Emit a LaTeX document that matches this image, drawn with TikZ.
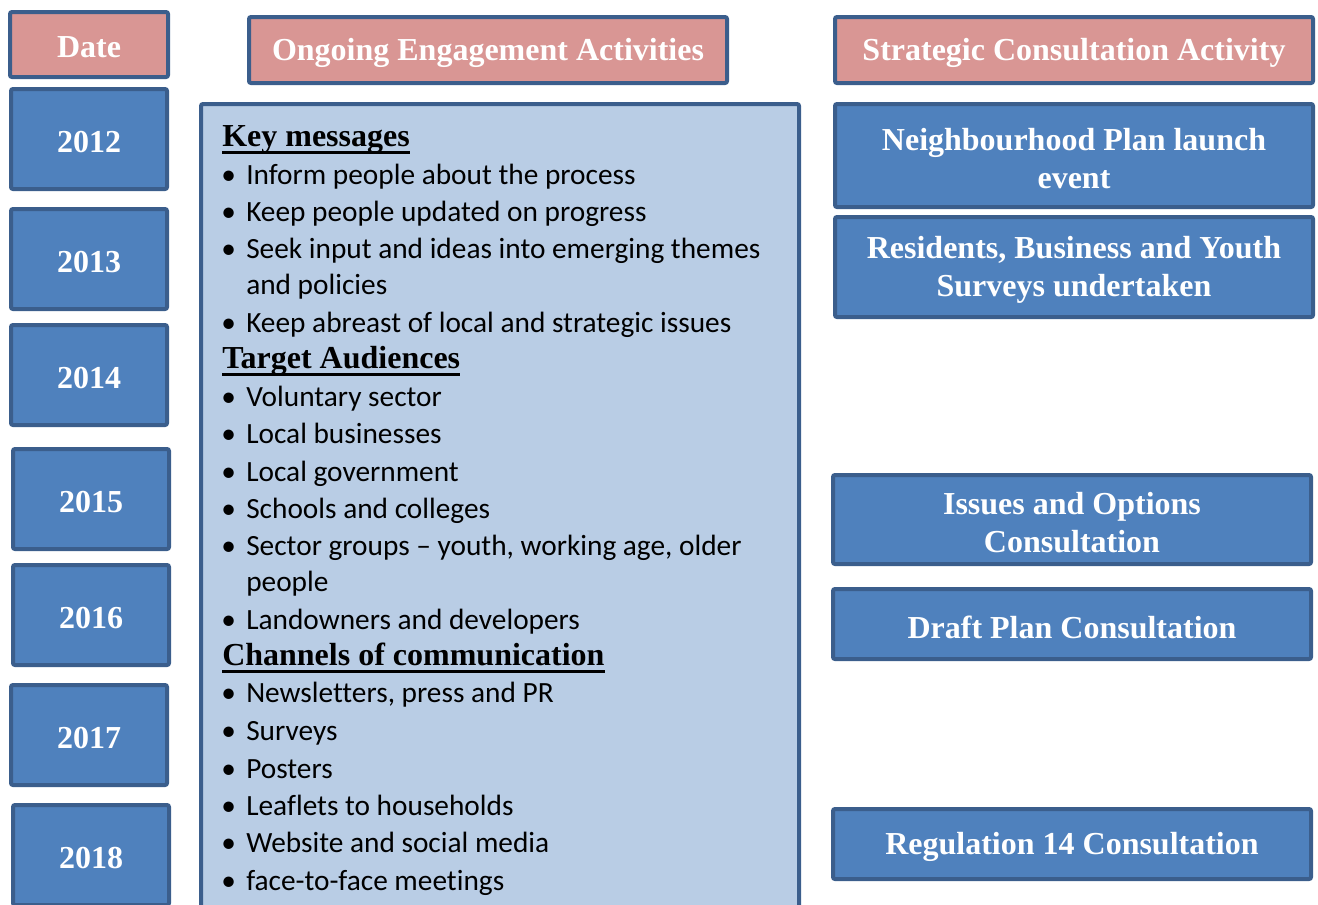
\documentclass[tikz,border=0pt]{standalone}
\usepackage{fontspec}
\setmainfont{Liberation Serif}
\newfontfamily\bodyfont[Ligatures=NoCommon]{Carlito}
\usetikzlibrary{fit}
\definecolor{bordc}{HTML}{3B5E8C}
\definecolor{boxblue}{HTML}{4F81BD}
\definecolor{hdpink}{HTML}{D99694}
\definecolor{lightblue}{HTML}{B9CDE5}
\newcommand{\hdfont}{\bfseries\fontsize{24}{28.5}\selectfont}
\newcommand{\bodyfnt}{\bodyfont\fontsize{22}{27.75}\selectfont}
\tikzset{
  basebox/.style={draw=bordc, line width=3pt, rounded corners=1.5pt, inner sep=0pt},
  boxtext/.style={text=white, font=\hdfont, align=center, inner sep=0pt, yshift=-2.25pt},
  txt/.style={label={[boxtext]center:{#1}}},
  bluebox/.style={basebox, fill=boxblue},
  pinkbox/.style={basebox, fill=hdpink},
  sz/.style 2 args={minimum width={#1*0.75pt}, minimum height={#2*0.75pt}},
  mainbox/.style={draw=bordc, line width=3pt, fill=lightblue, rounded corners=1.5pt, inner sep=0pt},
  bodyline/.style={anchor=base west, inner sep=0pt, font=\bodyfnt},
  bulletmark/.style={anchor=base west, inner sep=0pt, font=\bodyfnt},
  headline/.style={anchor=base west, inner sep=0pt, font=\hdfont},
  uline/.style={line width=2.2pt},
}
\begin{document}
\begin{tikzpicture}[x=0.75pt,y=-0.75pt]
\useasboundingbox (0,0) rectangle (1318,904);
% header boxes
\node[pinkbox, sz={158}{65}, txt={Date}] (date) at (89,44.5) {};
\node[pinkbox, sz={478}{66}, txt={Ongoing Engagement Activities}] (ongoing) at (488,50) {};
\node[pinkbox, sz={478}{66}, txt={Strategic Consultation Activity}] (strategic) at (1074,50) {};
% years
\node[bluebox, sz={156}{100}, txt={2012}] (y2012) at (89,139) {};
\node[bluebox, sz={156}{100}, txt={2013}] (y2013) at (89,259) {};
\node[bluebox, sz={156}{100}, txt={2014}] (y2014) at (89,375) {};
\node[bluebox, sz={156}{100}, txt={2015}] (y2015) at (91,499) {};
\node[bluebox, sz={156}{100}, txt={2016}] (y2016) at (91,615) {};
\node[bluebox, sz={156}{100}, txt={2017}] (y2017) at (89,735) {};
\node[bluebox, sz={156}{100}, txt={2018}] (y2018) at (91,855) {};
% main box
\node[mainbox, fit={(201,104) (799,920)}] (main) {};
% strategic activities
\node[bluebox, sz={478}{103}, txt={Neighbourhood Plan launch\\event}] (launch) at (1074,155.5) {};
\node[bluebox, sz={478}{100}, txt={Residents, Business and Youth\\Surveys undertaken}] (surveys) at (1074,267) {};
\node[bluebox, sz={478}{89}, txt={Issues and Options\\Consultation}] (issues) at (1072,519.5) {};
\node[bluebox, sz={478}{70}, txt={Draft Plan Consultation}] (draft) at (1072,624) {};
\node[bluebox, sz={478}{70}, txt={Regulation 14 Consultation}] (reg14) at (1072,844) {};
% headings
\node[headline] (hkey) at (222,146) {Key messages};
\node[headline] (htarget) at (222,368) {Target Audiences};
\node[headline] (hchan) at (222,665) {Channels of communication};
\foreach \h in {hkey,htarget,hchan}{
  \draw[uline] ([yshift=-4.6pt]\h.base west) -- ([yshift=-4.6pt]\h.base east);
}
% bullet lines
\foreach \yy/\txt in {184/{Inform people about the process},
  221/{Keep people updated on progress},
  258/{Seek input and ideas into emerging themes},
  332/{Keep abreast of local and strategic issues},
  406/{Voluntary sector},
  443/{Local businesses},
  481/{Local government},
  518/{Schools and colleges},
  555/{Sector groups – youth, working age, older},
  629/{Landowners and developers},
  702/{Newsletters, press and PR},
  740/{Surveys},
  778/{Posters},
  815/{Leaflets to households},
  852/{Website and social media},
  890/{face-to-face meetings}}{
  \node[bulletmark] (m\yy) at (221,\yy) {•};
  \node[bodyline] (t\yy) at (246,\yy) {\txt};
}
% continuation lines
\node[bodyline] (c294) at (246,294) {and policies};
\node[bodyline] (c591) at (246,591) {people};
\end{tikzpicture}
\end{document}
